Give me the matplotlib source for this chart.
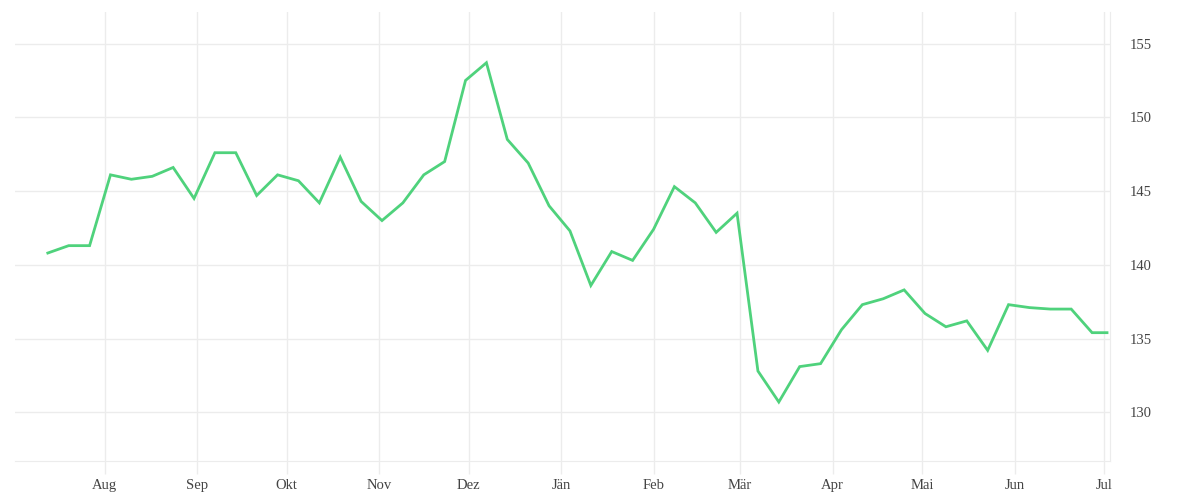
import numpy as np
import pandas as pd
import matplotlib
matplotlib.use("Agg")
import matplotlib.pyplot as plt
import matplotlib.dates as mdates

# weekly values
dates = list(pd.date_range("2023-07-13", periods=51, freq="7D")) + [pd.Timestamp("2024-07-02")]
values = [140.8, 141.3, 141.3, 146.1, 145.8, 146.0, 146.6, 144.5, 147.6, 147.6,
          144.7, 146.1, 145.7, 144.2, 147.3, 144.3, 143.0, 144.2, 146.1, 147.0,
          152.5, 153.7, 148.5, 146.9, 144.0, 142.3, 138.6, 140.9, 140.3, 142.4,
          145.3, 144.2, 142.2, 143.5, 132.8, 130.7, 133.1, 133.3, 135.6, 137.3,
          137.7, 138.3, 136.7, 135.8, 136.2, 134.2, 137.3, 137.1, 137.0, 137.0,
          135.4, 135.4]
month_labels = ["Aug", "Sep", "Okt", "Nov", "Dez", "Jän", "Feb", "Mär",
                "Apr", "Mai", "Jun", "Jul"]
month_ticks = pd.date_range("2023-08-01", periods=12, freq="MS")
y_ticks = [130, 135, 140, 145, 150, 155]

grid_col = "#ececec"
text_col = "#444444"
line_col = "#4fd27c"

plt.rcParams['font.family'] = ['Liberation Serif', 'DejaVu Serif']

fig = plt.figure(figsize=(12, 5), dpi=100)
ax = fig.add_axes([0.0125, 0.078, 0.9125, 0.898])

ax.plot(dates, values, color=line_col, lw=2.0, solid_joinstyle="miter")

ax.set_xlim(pd.Timestamp("2023-07-02"), pd.Timestamp("2024-07-03"))
ax.set_ylim(126.7, 157.14)

ax.set_xticks(month_ticks)
ax.set_xticklabels(month_labels)
ax.set_yticks(y_ticks)

ax.yaxis.tick_right()
ax.grid(True, color=grid_col, lw=1)
ax.set_axisbelow(True)

for s in ["top", "left"]:
    ax.spines[s].set_visible(False)
ax.spines["bottom"].set_color(grid_col)
ax.spines["right"].set_color(grid_col)

ax.tick_params(axis="x", length=9, width=1, color=grid_col, pad=4,
               labelsize=10.5, labelcolor=text_col)
ax.tick_params(axis="y", length=0, pad=14, labelsize=10.5, labelcolor=text_col)

fig.savefig("out.png", dpi=100)
